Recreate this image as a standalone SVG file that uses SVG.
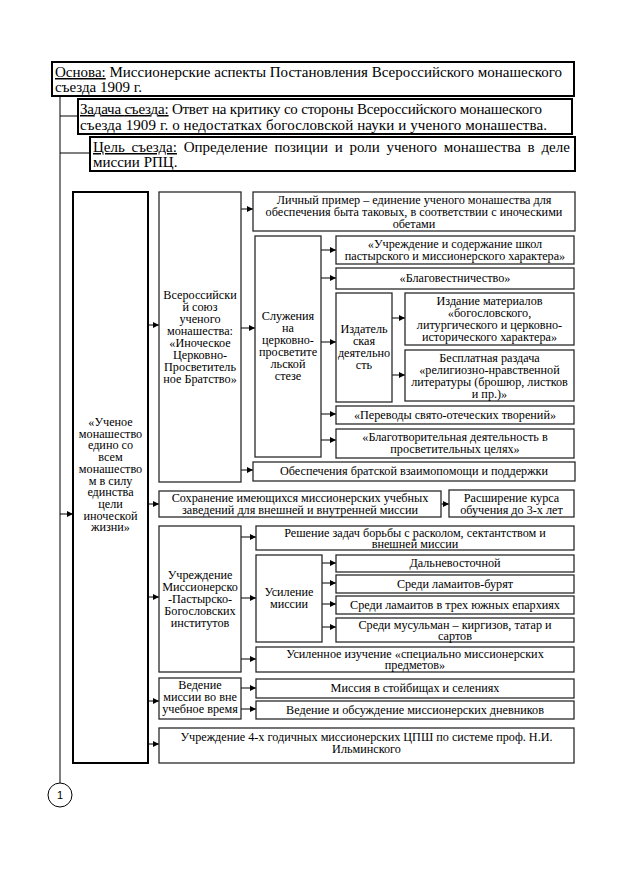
<svg xmlns="http://www.w3.org/2000/svg" width="620" height="878" viewBox="0 0 620 878" font-family="'Liberation Serif', 'Times New Roman', serif">
<defs>
<marker id="ar" viewBox="0 0 6 6" refX="6" refY="3" markerWidth="6" markerHeight="6" markerUnits="userSpaceOnUse" orient="auto"><path d="M0,0 L6,3 L0,6 z" fill="#000"/></marker>
<style>
text{font-family:'Liberation Serif','Times New Roman',serif;fill:#000;}
.t{font-size:12.2px;text-anchor:middle;}
.h{font-size:15px;}
.u{text-decoration:underline;}
.bx{fill:#fff;stroke:#2a2a2a;stroke-width:1.3;}
.tk{fill:#fff;stroke:#000;stroke-width:2;}
.ln{fill:none;stroke:#000;stroke-width:1;}
.a{fill:none;stroke:#000;stroke-width:1;marker-end:url(#ar);}
</style>
</defs>
<rect width="620" height="878" fill="#fff"/>
<g id="connectors">
<path class="ln" d="M60,96 V783"/>
<path class="ln" d="M60,116 H78"/>
<path class="ln" d="M60,153 H90"/>
<path class="a" d="M60,514 H73"/>
<path class="a" d="M148,325 H159"/>
<path class="a" d="M148,504 H159"/>
<path class="a" d="M148,597 H159"/>
<path class="a" d="M148,701 H159"/>
<path class="a" d="M148,744 H159"/>
<path class="a" d="M241,209 H253"/>
<path class="a" d="M241,328 H255"/>
<path class="a" d="M241,470 H253"/>
<path class="a" d="M321,250 H336"/>
<path class="a" d="M321,278 H336"/>
<path class="a" d="M321,342 H336"/>
<path class="a" d="M321,414 H336"/>
<path class="a" d="M321,440 H336"/>
<path class="a" d="M392,318 H405"/>
<path class="a" d="M392,375 H405"/>
<path class="a" d="M441,504 H449"/>
<path class="a" d="M241,537 H256"/>
<path class="a" d="M241,598 H256"/>
<path class="a" d="M241,659 H256"/>
<path class="a" d="M322,563 H336"/>
<path class="a" d="M322,583 H336"/>
<path class="a" d="M322,604 H336"/>
<path class="a" d="M322,627 H336"/>
<path class="a" d="M241,688 H256"/>
<path class="a" d="M241,709 H256"/>
</g>
<g id="osnova">
<rect class="tk" x="52" y="62" width="522" height="34"/>
<text class="h" y="77"><tspan x="55"><tspan class="u">Основа:</tspan> Миссионерские аспекты Постановления Всероссийского монашеского</tspan><tspan x="55" dy="15">съезда 1909 г.</tspan></text>
</g>
<g id="zadacha">
<rect class="tk" x="78" y="99" width="494" height="35"/>
<text class="h" y="114"><tspan x="80" textLength="462" lengthAdjust="spacing"><tspan class="u">Задача съезда:</tspan> Ответ на критику со стороны Всероссийского монашеского</tspan><tspan x="80" dy="16" textLength="467" lengthAdjust="spacing">съезда 1909 г. о недостатках богословской науки и ученого монашества.</tspan></text>
</g>
<g id="cel">
<rect class="tk" x="90" y="137" width="485" height="34"/>
<text class="h" y="152"><tspan x="93" word-spacing="3"><tspan class="u">Цель съезда:</tspan> Определение позиции и роли ученого монашества в деле</tspan><tspan x="93" dy="15">миссии РПЦ.</tspan></text>
</g>
<g id="uchenoe">
<rect class="tk" x="73" y="192" width="75" height="571"/>
<text class="t" y="426"><tspan x="110.5">«Ученое</tspan><tspan x="110.5" dy="11.7">монашество</tspan><tspan x="110.5" dy="11.7">едино со</tspan><tspan x="110.5" dy="11.7">всем</tspan><tspan x="110.5" dy="11.7">монашество</tspan><tspan x="110.5" dy="11.7">м в силу</tspan><tspan x="110.5" dy="11.7">единства</tspan><tspan x="110.5" dy="11.7">цели</tspan><tspan x="110.5" dy="11.7">иноческой</tspan><tspan x="110.5" dy="11.7">жизни»</tspan></text>
</g>
<g id="soyuz">
<rect class="bx" x="159" y="192" width="82" height="290"/>
<text class="t" y="299"><tspan x="200">Всероссийски</tspan><tspan x="200" dy="12">й союз</tspan><tspan x="200" dy="12">ученого</tspan><tspan x="200" dy="12">монашества:</tspan><tspan x="200" dy="12">«Иноческое</tspan><tspan x="200" dy="12">Церковно-</tspan><tspan x="200" dy="12">Просветитель</tspan><tspan x="200" dy="12">ное Братство»</tspan></text>
</g>
<g id="lichny">
<rect class="bx" x="253" y="192" width="322" height="39"/>
<text class="t" y="204"><tspan x="414">Личный пример – единение ученого монашества для</tspan><tspan x="414" dy="12">обеспечения быта таковых, в соответствии с иноческими</tspan><tspan x="414" dy="12">обетами</tspan></text>
</g>
<g id="sluzhenia">
<rect class="bx" x="255" y="236" width="66" height="221"/>
<text class="t" y="320"><tspan x="288">Служения</tspan><tspan x="288" dy="12">на</tspan><tspan x="288" dy="12">церковно-</tspan><tspan x="288" dy="12">просветите</tspan><tspan x="288" dy="12">льской</tspan><tspan x="288" dy="12">стезе</tspan></text>
</g>
<g id="shkoly">
<rect class="bx" x="336" y="236" width="238" height="28"/>
<text class="t" y="248"><tspan x="455">«Учреждение и содержание школ</tspan><tspan x="455" dy="12">пастырского и миссионерского характера»</tspan></text>
</g>
<g id="blagovest">
<rect class="bx" x="336" y="268" width="238" height="21"/>
<text class="t" x="455" y="282">«Благовестничество»</text>
</g>
<g id="izdatel">
<rect class="bx" x="336" y="293" width="56" height="109"/>
<text class="t" y="333"><tspan x="364">Издатель</tspan><tspan x="364" dy="12">ская</tspan><tspan x="364" dy="12">деятельно</tspan><tspan x="364" dy="12">сть</tspan></text>
</g>
<g id="izdanie">
<rect class="bx" x="405" y="293" width="169" height="52"/>
<text class="t" y="305"><tspan x="489.5">Издание материалов</tspan><tspan x="489.5" dy="12">«богословского,</tspan><tspan x="489.5" dy="12">литургического и церковно-</tspan><tspan x="489.5" dy="12">исторического характера»</tspan></text>
</g>
<g id="razdacha">
<rect class="bx" x="405" y="350" width="169" height="51"/>
<text class="t" y="362"><tspan x="489.5">Бесплатная раздача</tspan><tspan x="489.5" dy="12">«религиозно-нравственной</tspan><tspan x="489.5" dy="12">литературы (брошюр, листков</tspan><tspan x="489.5" dy="12">и пр.)»</tspan></text>
</g>
<g id="perevody">
<rect class="bx" x="336" y="406" width="238" height="18"/>
<text class="t" x="455" y="419">«Переводы свято-отеческих творений»</text>
</g>
<g id="blagotvor">
<rect class="bx" x="336" y="429" width="238" height="29"/>
<text class="t" y="441"><tspan x="455">«Благотворительная деятельность в</tspan><tspan x="455" dy="12">просветительных целях»</tspan></text>
</g>
<g id="vzaimopomosh">
<rect class="bx" x="253" y="462" width="322" height="19"/>
<text class="t" x="414" y="475">Обеспечения братской взаимопомощи и поддержки</text>
</g>
<g id="sohranenie">
<rect class="bx" x="159" y="491" width="282" height="26"/>
<text class="t" y="502"><tspan x="300">Сохранение имеющихся миссионерских учебных</tspan><tspan x="300" dy="12">заведений для внешней и внутренней миссии</tspan></text>
</g>
<g id="rasshirenie">
<rect class="bx" x="449" y="490" width="125" height="27"/>
<text class="t" y="502"><tspan x="511.5">Расширение курса</tspan><tspan x="511.5" dy="12">обучения до 3-х лет</tspan></text>
</g>
<g id="instituty">
<rect class="bx" x="159" y="526" width="82" height="146"/>
<text class="t" y="579"><tspan x="200">Учреждение</tspan><tspan x="200" dy="12">Миссионерско</tspan><tspan x="200" dy="12">-Пастырско-</tspan><tspan x="200" dy="12">Богословских</tspan><tspan x="200" dy="12">институтов</tspan></text>
</g>
<g id="reshenie">
<rect class="bx" x="256" y="526" width="318" height="24"/>
<text class="t" y="537"><tspan x="415">Решение задач борьбы с расколом, сектантством и</tspan><tspan x="415" dy="11">внешней миссии</tspan></text>
</g>
<g id="usilenie">
<rect class="bx" x="256" y="555" width="66" height="87"/>
<text class="t" y="596"><tspan x="289">Усиление</tspan><tspan x="289" dy="12">миссии</tspan></text>
</g>
<g id="dalnevost">
<rect class="bx" x="336" y="555" width="238" height="17"/>
<text class="t" x="455" y="567">Дальневосточной</text>
</g>
<g id="buryat">
<rect class="bx" x="336" y="575" width="238" height="18"/>
<text class="t" x="455" y="588">Среди ламаитов-бурят</text>
</g>
<g id="eparhii">
<rect class="bx" x="336" y="596" width="238" height="18"/>
<text class="t" x="455" y="609">Среди ламаитов в трех южных епархиях</text>
</g>
<g id="musulman">
<rect class="bx" x="336" y="618" width="238" height="24"/>
<text class="t" y="629"><tspan x="455">Среди мусульман – киргизов, татар и</tspan><tspan x="455" dy="11">сартов</tspan></text>
</g>
<g id="izuchenie">
<rect class="bx" x="256" y="647" width="318" height="25"/>
<text class="t" y="658"><tspan x="415">Усиленное изучение «специально миссионерских</tspan><tspan x="415" dy="11">предметов»</tspan></text>
</g>
<g id="vedenie">
<rect class="bx" x="159" y="678" width="82" height="41"/>
<text class="t" y="689"><tspan x="200">Ведение</tspan><tspan x="200" dy="12">миссии во вне</tspan><tspan x="200" dy="12">учебное время</tspan></text>
</g>
<g id="stoibishcha">
<rect class="bx" x="256" y="679" width="318" height="19"/>
<text class="t" x="415" y="692">Миссия в стойбищах и селениях</text>
</g>
<g id="dnevniki">
<rect class="bx" x="256" y="701" width="318" height="18"/>
<text class="t" x="415" y="714">Ведение и обсуждение миссионерских дневников</text>
</g>
<g id="cpsh">
<rect class="bx" x="159" y="728" width="415" height="35"/>
<text class="t" y="741"><tspan x="366.5">Учреждение 4-х годичных миссионерских ЦПШ по системе проф. Н.И.</tspan><tspan x="366.5" dy="12">Ильминского</tspan></text>
</g>
<g id="page">
<circle cx="60" cy="795" r="12" fill="#fff" stroke="#000" stroke-width="1"/>
<text x="60" y="799" style="font-family:'Liberation Sans',Arial,sans-serif;font-size:11px;text-anchor:middle">1</text>
</g>
</svg>
